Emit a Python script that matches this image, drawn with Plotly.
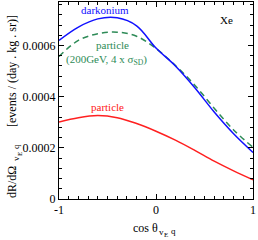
import plotly.graph_objects as go

cos_theta = [-1, -0.8, -0.6, -0.4, -0.2, 0, 0.2, 0.4, 0.6, 0.8, 1]
darkonium = [0.00062, 0.000672, 0.000704, 0.000708, 0.000677, 0.00059, 0.00052, 0.000435, 0.00034, 0.000255, 0.000182]
particle_sd = [0.000557, 0.00062, 0.000646, 0.000652, 0.000636, 0.000588, 0.000522, 0.000445, 0.000355, 0.00027, 0.000202]
particle = [0.000301, 0.000318, 0.000326, 0.000318, 0.000295, 0.000265, 0.00023, 0.00019, 0.000148, 0.00011, 0.000075]

xticks = [-1, 0, 1]
yticks = [0, 0.0002, 0.0004, 0.0006]
yticklabels = ["0", "0.0002", "0.0004", "0.0006"]

FONT = "Liberation Serif, Times New Roman, serif"

fig = go.Figure()
fig.add_trace(go.Scatter(x=cos_theta, y=particle, mode="lines", line=dict(color="#ff2020", width=1.5, shape="spline"), showlegend=False))
fig.add_trace(go.Scatter(x=cos_theta, y=particle_sd, mode="lines", line=dict(color="#2e8b57", width=1.5, dash="6px,4px", shape="spline"), showlegend=False))
fig.add_trace(go.Scatter(x=cos_theta, y=darkonium, mode="lines", line=dict(color="#1010ff", width=1.5, shape="spline"), showlegend=False))

annots = [
    dict(x=-0.53, y=0.000738, text="darkonium", color="#1010ff"),
    dict(x=-0.45, y=0.000602, text="particle", color="#2e8b57"),
    dict(x=-0.515, y=0.000543, text="(200GeV, 4 x σ<sub>SD</sub>)", color="#2e8b57"),
    dict(x=-0.505, y=0.000358, text="particle", color="#ff2020"),
    dict(x=0.73, y=0.000700, text="Xe", color="black"),
]
for a in annots:
    fig.add_annotation(x=a["x"], y=a["y"], text=a["text"], showarrow=False,
                       font=dict(family=FONT, size=11, color=a["color"]), xanchor="center", yanchor="middle")

W0, H0, L0, B0 = 194.0, 197.0, 59.0, 199.0
def px(x):
    return (x - L0) / W0
def py(y):
    return (B0 - y) / H0

def label(x, y, text, size, angle=0):
    fig.add_annotation(xref="paper", yref="paper", x=px(x), y=py(y), text=text, showarrow=False,
                       xanchor="center", yanchor="middle", textangle=angle,
                       font=dict(family=FONT, size=size, color="black"))

# x title
label(145, 228, "cos θ", 12)
label(161, 232, "v", 9)
label(166, 235, "E", 7)
label(173, 231, "q", 9)
# y title
label(12, 182, "dR/dΩ", 12, -90)
label(16, 159, "v", 9, -90)
label(20, 154, "E", 7, -90)
label(16, 147, "q", 9, -90)
label(12, 71, "[events / (day . kg . sr)]", 12, -90)

axis_common = dict(showline=True, linecolor="black", linewidth=1, mirror="allticks",
                   ticks="inside", ticklen=5, tickcolor="black", showgrid=False, zeroline=False,
                   ticklabeloverflow="allow", automargin=False,
                   tickfont=dict(family=FONT, size=12, color="black"))

fig.update_xaxes(range=[-1, 1], tickvals=xticks, ticktext=[str(v) for v in xticks],
                 minor=dict(dtick=0.1, ticks="inside", ticklen=3, tickcolor="black", showgrid=False),
                 **axis_common)
fig.update_yaxes(range=[0, 0.00077], tickvals=yticks, ticktext=yticklabels,
                 minor=dict(dtick=0.00004, tick0=0, ticks="inside", ticklen=3, tickcolor="black", showgrid=False),
                 **axis_common)

fig.update_layout(width=258, height=240, margin=dict(l=59, r=5, t=2, b=41, autoexpand=False),
                  plot_bgcolor="white", paper_bgcolor="white", font=dict(family=FONT, size=12))
fig.write_html("out.html", config={"displayModeBar": False},
               post_script="document.body.style.margin='0';document.body.style.overflow='hidden';")
